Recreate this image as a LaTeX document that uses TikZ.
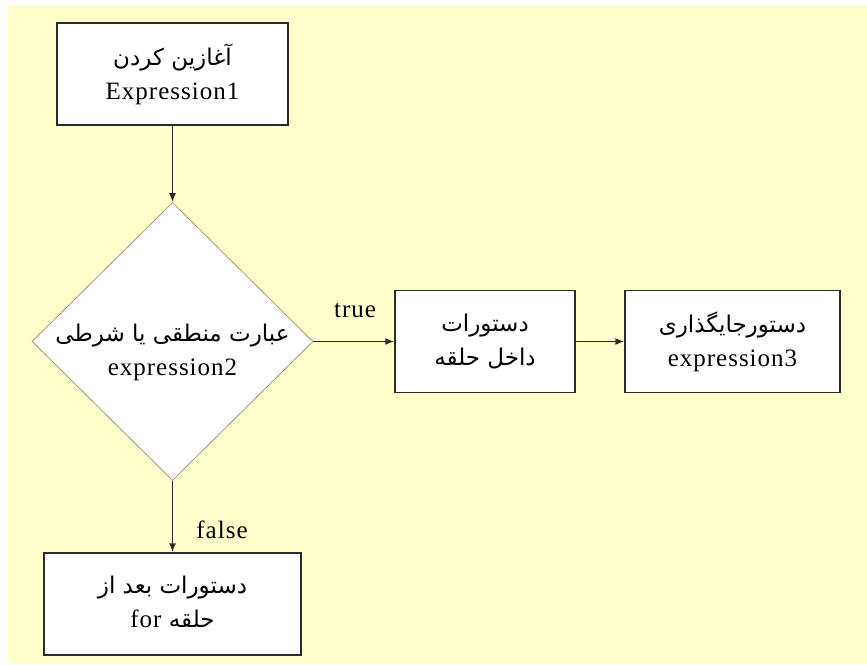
\documentclass[tikz,border=0pt]{standalone}
\usepackage{fontspec}
\usetikzlibrary{shapes.geometric,arrows.meta}
\setmainfont{Liberation Serif}[LetterSpace=4]
\newfontfamily\arabicfont[Script=Arabic]{DejaVu Sans}
\TeXXeTstate=1
\definecolor{paper}{HTML}{FFFFCC}
\definecolor{edge}{HTML}{2B2B2B}
\definecolor{diamondedge}{HTML}{9A9A80}
% Persian line, set right to left
\newcommand\fa[1]{{\arabicfont\fontsize{23}{34}\selectfont\beginR #1\endR}}
% Latin word inside a Persian line
\newcommand\lat[1]{\beginL{\rmfamily\fontsize{25}{34}\selectfont #1}\endL}

\begin{document}
\begin{tikzpicture}[x=1pt,y=-1pt,
  flowbox/.style={draw=edge, line width=1.5pt, fill=white, inner sep=0pt},
  decision/.style={diamond, draw=diamondedge, line width=0.8pt, fill=white, inner sep=0pt},
  flow/.style={draw=edge, line width=1.5pt, -{Latex[length=9pt,width=7pt]}},
  txt/.style={align=center, inner sep=0pt, font=\fontsize{25}{34}\selectfont},
  lbl/.style={inner sep=0pt, font=\fontsize{25}{30}\selectfont}
]
\useasboundingbox (0,0) rectangle (867,664);
\fill[white] (0,0) rectangle (867,664);
\fill[paper] (8,5) rectangle (867,664);

% boxes and decision
\node[flowbox, minimum width=231pt, minimum height=102pt] (init) at (172.5,74) {};
\node[decision, minimum width=281pt, minimum height=278pt] (cond) at (172.5,341.5) {};
\node[flowbox, minimum width=180pt, minimum height=102pt] (body) at (485,341.5) {};
\node[flowbox, minimum width=215pt, minimum height=102pt] (update) at (732.5,341.5) {};
\node[flowbox, minimum width=257pt, minimum height=102pt] (after) at (172.5,604) {};

% texts
\node[txt] (initText) at (172.5,74) {\fa{آغازین کردن}\\Expression1};
\node[txt] (condText) at (172.5,352) {\fa{عبارت منطقی یا شرطی}\\expression2};
\node[txt] (bodyText) at (485,341.5) {\fa{دستورات}\\\fa{داخل حلقه}};
\node[txt] (updateText) at (732.5,341.5) {\fa{دستورجایگذاری}\\expression3};
\node[txt] (afterText) at (172.5,602) {\fa{دستورات بعد از}\\\fa{حلقه \lat{for}}};

% connectors
\draw[flow] (init.south) -- (cond.north);
\draw[flow] (cond.east) -- (body.west);
\draw[flow] (body.east) -- (update.west);
\draw[flow] (cond.south) -- (after.north);

% branch labels
\node[lbl] (trueLbl) at (355,311) {true};
\node[lbl] (falseLbl) at (222,530) {false};
\end{tikzpicture}
\end{document}
